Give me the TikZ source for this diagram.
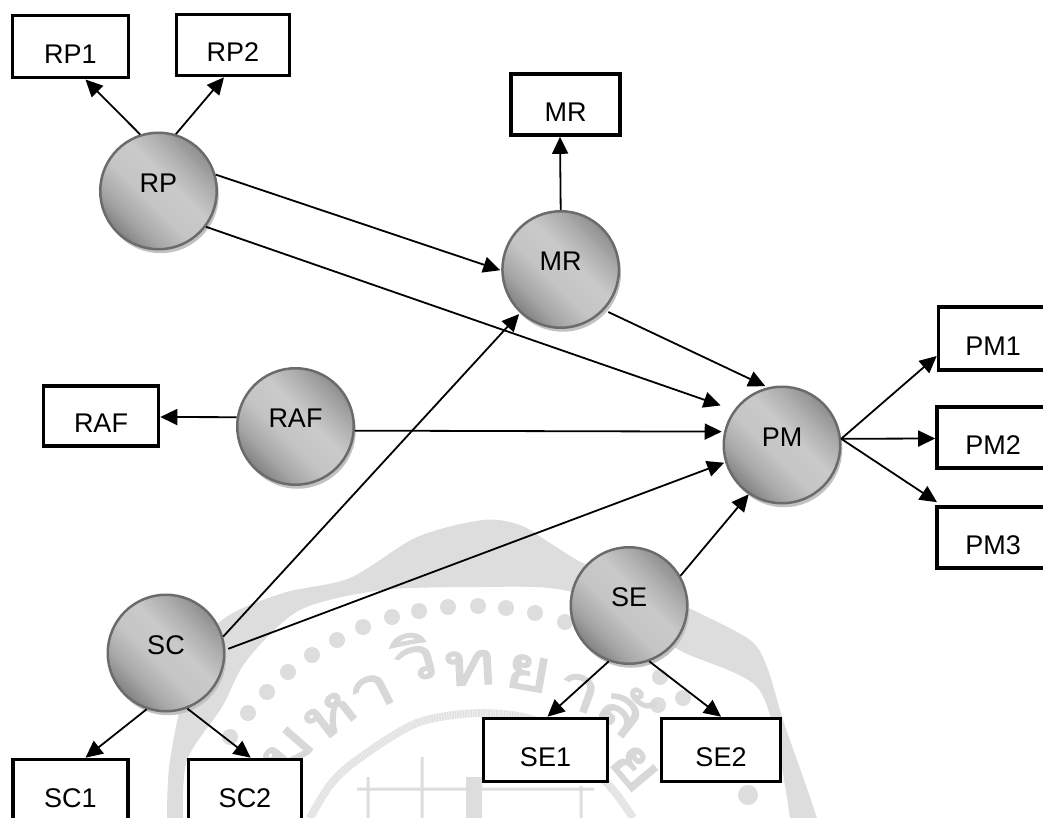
\documentclass[tikz,border=0pt]{standalone}
\usepackage{fontspec}
\setmainfont{Liberation Sans}
\newfontfamily\thaifont[Script=Thai,FakeBold=2.5,FakeStretch=1.3]{Loma}
\usetikzlibrary{arrows.meta,shadows}
\definecolor{wm}{HTML}{DDDDDD}
\definecolor{wmt}{HTML}{D8D8D8}
\pgfdeclareverticalshading{ballsh}{100bp}{
  color(0bp)=(black!54); color(22bp)=(black!54); color(33bp)=(black!35);
  color(44bp)=(black!23); color(56bp)=(black!21); color(67bp)=(black!33);
  color(78bp)=(black!48); color(100bp)=(black!48)}
\tikzset{
  circ/.style={circle,draw=black!58,line width=2.5pt,minimum size=116.5pt,inner sep=0pt,
    shading=ballsh,shading angle=-45,
    drop shadow={shadow xshift=2pt,shadow yshift=-4pt,fill=black!24,opacity=1},
    label={[text=black,font=\fontsize{27}{27}\selectfont,yshift=8pt,inner sep=0pt]center:#1}},
  boxn/.style={rectangle,draw=black,line width=3.6pt,fill=white,inner sep=0pt,
    label={[text=black,font=\fontsize{27}{27}\selectfont,yshift=-7.5pt,inner sep=0pt]center:#1}},
  arr/.style={-{Triangle[length=17pt,width=16pt]},line width=1.8pt,black},
  wmdot/.style={circle,fill=wm,minimum size=16pt,inner sep=0pt},
  wml/.style={text=wmt,font=\thaifont\fontsize{60}{60}\selectfont,inner sep=0pt}
}
\begin{document}
\begin{tikzpicture}[x=1pt,y=-1pt]
\clip (0,0) rectangle (1043,818);
\useasboundingbox (0,0) rectangle (1043,818);
\fill[white] (0,0) rectangle (1043,818);
% watermark seal
\fill[wm] plot[smooth] coordinates {(167,818) (170,760) (190,670) (222,620) (283,593) (350,578) (417,537) (483,520) (520,525) (550,543) (583,563) (640,585) (693,610) (750,640) (767,667) (783,720) (803,777) (817,818)}
  -- plot[smooth] coordinates {(790,818) (780,760) (757,687) (683,652) (640,625) (600,600) (550,588) (483,587) (383,590) (300,610) (247,660) (222,707) (187,760) (183,818)} -- cycle;
\draw[wm!85,line width=8pt,dash pattern=on 2pt off 0.6pt] plot[smooth] coordinates {(310,818) (330,785) (357,760) (417,723) (483,713) (545,725) (607,783) (633,818)};
\foreach \x/\y [count=\i] in {230/737,248/713,267/692,288/672,312/655,337/640,363/627,392/617,419/611,448/607,478/606,506/608,535/613,565/622,660/677,683/698,658/705}
  \node[wmdot] (wd\i) at (\x,\y) {};
\node[wmdot,minimum size=20pt] (wdb) at (748,795) {};
\foreach \t/\x/\y/\r [count=\i] in {ม/288/752/49,ห/330/716/38,า/372/693/27,วิ/414/657/15,ท/470/668/3,ย/528/673/-10,า/578/692/-20,ลั/624/708/-38,ย/634/768/-50}
  \node[wml,rotate=\r] (wt\i) at (\x,\y) {\t};
\fill[wm] (357,787.5) rectangle (594,790.5) (366.5,777) rectangle (369.5,818) (420.5,757) rectangle (423.5,818) (466,777) rectangle (482,818) (579.5,786) rectangle (582.5,818);
% circles
\node[circ=RP]  (RP)  at (158.5,191) {};
\node[circ=MR]  (MR)  at (560.7,269.5) {};
\node[circ=RAF] (RAF) at (295.5,426.5) {};
\node[circ=PM]  (PM)  at (782,445) {};
\node[circ=SE]  (SE)  at (629,605.5) {};
\node[circ=SC]  (SC)  at (166,653) {};
% boxes
\node[boxn=RP1,minimum width=116pt,minimum height=62pt] (RP1) at (70.5,46.7) {};
\node[boxn=RP2,minimum width=113pt,minimum height=61pt] (RP2) at (233,45) {};
\node[boxn=MR,minimum width=109.5pt,minimum height=61pt] (MRb) at (565.5,104.5) {};
\node[boxn=RAF,minimum width=115pt,minimum height=60pt] (RAFb) at (101,416) {};
\node[boxn=PM1,minimum width=109pt,minimum height=63pt] (PM1) at (993,338.5) {};
\node[boxn=PM2,minimum width=112pt,minimum height=61pt] (PM2) at (993,437.5) {};
\node[boxn=PM3,minimum width=112pt,minimum height=61pt] (PM3) at (993,537.5) {};
\node[boxn=SE1,minimum width=124pt,minimum height=63pt] (SE1) at (545.5,750) {};
\node[boxn=SE2,minimum width=119pt,minimum height=63pt] (SE2) at (721,750) {};
\node[boxn=SC1,minimum width=115pt,minimum height=63pt] (SC1) at (70.5,791) {};
\node[boxn=SC2,minimum width=113pt,minimum height=63pt] (SC2) at (245,791) {};
% connectors
\draw[arr] (RP.108.6) -- ([xshift=15pt]RP1.south);
\draw[arr] (RP.73.2) -- ([xshift=-9pt]RP2.south);
\draw[arr,shorten >=1pt] (RP.16.3) -- (MR.181);
\draw[arr,shorten >=14pt] (RP.-37.9) -- (PM.144.3);
\draw[arr] (MR.90) -- ([xshift=-5.5pt]MRb.south);
\draw[arr,shorten <=4.5pt,shorten >=2.5pt] (MR.-43.2) -- (PM.104);
\draw[arr] (RAF.171) -- ([yshift=-1pt]RAFb.east);
\draw[arr,shorten >=2.3pt] (RAF.-4.3) -- (PM.167.4);
\draw[arr,shorten >=1.5pt] (SC.16.6) -- (MR.227.7);
\draw[arr,shorten <=3pt,shorten >=1pt] (SC.3.7) -- (PM.197.6);
\draw[arr] (SE.30.5) -- (PM.236);
\draw[arr] (PM.6.5) -- ([yshift=-17.5pt]PM1.west);
\draw[arr] (PM.6.5) -- ([yshift=-1pt]PM2.west);
\draw[arr] (PM.6.5) -- ([xshift=-56pt,yshift=3pt]PM3.north);
\draw[arr] (SE.250) -- ([xshift=2pt]SE1.north);
\draw[arr] (SE.290.8) -- (SE2.north);
\draw[arr] (SC.291) -- ([xshift=5.7pt]SC2.north);
\draw[arr] (SC.251.6) -- ([xshift=15pt]SC1.north);
\end{tikzpicture}
\end{document}
